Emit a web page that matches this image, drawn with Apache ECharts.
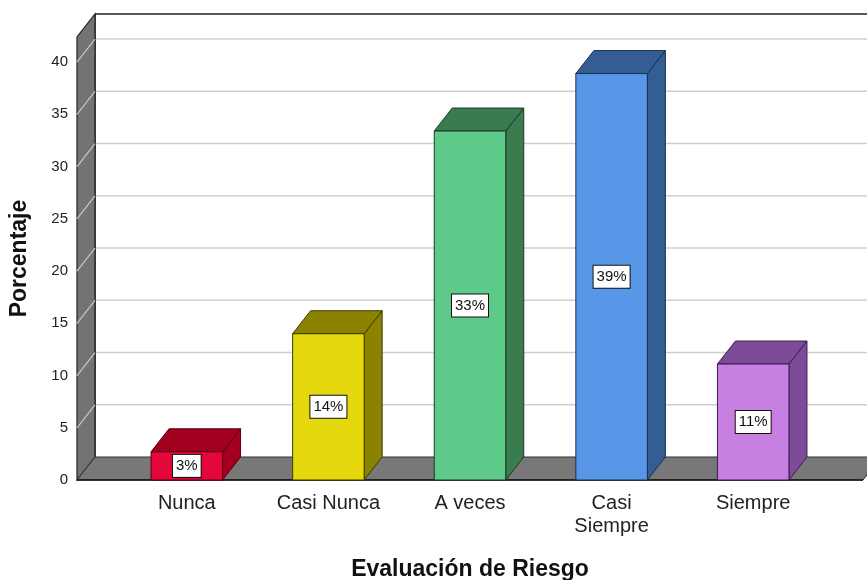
<!DOCTYPE html>
<html>
<head>
<meta charset="utf-8">
<script src="https://cdn.jsdelivr.net/npm/echarts@6/dist/echarts.min.js"></script>
<style>
  html, body { margin: 0; padding: 0; background: #fff; }
  #chart { width: 867px; height: 580px; }
</style>
</head>
<body>
<div id="chart"></div>
<script>
// data
var categories = ['Nunca', 'Casi Nunca', 'A veces', 'Casi\nSiempre', 'Siempre'];
var porcentajes = [2.7, 14.0, 33.4, 38.9, 11.1];
var yTicks = [0, 5, 10, 15, 20, 25, 30, 35, 40];
var yTop = 42.4;

// colours of the 3d bars: front face, top/side face
var frontColors = ['#e4083a', '#e5d80c', '#5dca8a', '#5897e8', '#c87fe2'];
var sideColors = ['#a3001f', '#8b8200', '#3a7c50', '#345d93', '#7d4c98'];
var edgeColors = ['#5a0010', '#3d3800', '#173a22', '#18304f', '#3b1d4d'];

var DX = 18, DY = -23;   // depth offset of the 3d effect
var EXT = 39;            // floor sticks out past the category band

function initChart(domId) {
    var myChart = echarts.init(document.getElementById(domId));

    function renderFrame(params, api) {
        var cs = params.coordSys;
        var L = cs.x - EXT, R = cs.x + cs.width + EXT;
        var y0 = api.coord([0, 0])[1];
        var yt = api.coord([0, yTop])[1];
        var kids = [];
        // back wall
        kids.push({ type: 'polygon', shape: { points: [[L + DX, yt + DY], [R + DX + 60, yt + DY], [R + DX + 60, y0 + DY], [L + DX, y0 + DY]] },
            style: { fill: '#fff', stroke: null } });
        yTicks.forEach(function (v) {
            if (v === 0) return;
            var y = api.coord([0, v])[1];
            kids.push({ type: 'line', shape: { x1: L + DX, y1: y + DY, x2: R + DX + 60, y2: y + DY },
                style: { stroke: '#cfcfcf', lineWidth: 1.5 } });
        });
        kids.push({ type: 'line', shape: { x1: L + DX, y1: yt + DY, x2: R + DX + 60, y2: yt + DY },
            style: { stroke: '#222', lineWidth: 1.5 } });
        kids.push({ type: 'line', shape: { x1: L + DX, y1: yt + DY, x2: L + DX, y2: y0 + DY },
            style: { stroke: '#222', lineWidth: 1.5 } });
        // left wall
        kids.push({ type: 'polygon', shape: { points: [[L, y0], [L, yt], [L + DX, yt + DY], [L + DX, y0 + DY]] },
            style: { fill: '#737373', stroke: '#222', lineWidth: 1.2 } });
        yTicks.forEach(function (v) {
            if (v === 0) return;
            var y = api.coord([0, v])[1];
            kids.push({ type: 'line', shape: { x1: L, y1: y, x2: L + DX, y2: y + DY },
                style: { stroke: '#c8c8c8', lineWidth: 1.2 } });
        });
        // floor
        kids.push({ type: 'polygon', shape: { points: [[L, y0], [R, y0], [R + DX, y0 + DY], [L + DX, y0 + DY]] },
            style: { fill: '#787878', stroke: '#333', lineWidth: 1 } });
        kids.push({ type: 'line', shape: { x1: L, y1: y0, x2: R, y2: y0 },
            style: { stroke: '#111', lineWidth: 1.5 } });
        return { type: 'group', children: kids };
    }

    function renderBar(params, api) {
        var i = api.value(0), v = api.value(1);
        var base = api.coord([i, 0]);
        var top = api.coord([i, v]);
        var w = api.size([1, 0])[0] * 0.505;
        var xl = base[0] - w / 2, xr = base[0] + w / 2;
        var yb = base[1], yt = top[1];
        var edge = edgeColors[i];
        return {
            type: 'group',
            children: [
                { type: 'polygon', shape: { points: [[xr, yt], [xr + DX, yt + DY], [xr + DX, yb + DY], [xr, yb]] },
                    style: { fill: sideColors[i], stroke: edge, lineWidth: 1 } },
                { type: 'polygon', shape: { points: [[xl, yt], [xr, yt], [xr + DX, yt + DY], [xl + DX, yt + DY]] },
                    style: { fill: sideColors[i], stroke: edge, lineWidth: 1 } },
                { type: 'rect', shape: { x: xl, y: yt, width: w, height: yb - yt },
                    style: { fill: frontColors[i], stroke: edge, lineWidth: 1 } },
                { type: 'text', x: base[0], y: (yt + yb) / 2,
                    style: { text: Math.round(v) + '%', align: 'center', verticalAlign: 'middle',
                        font: '15px "Liberation Sans", Arial, sans-serif', fill: '#111',
                        backgroundColor: '#fff', borderColor: '#111', borderWidth: 1, padding: [4, 3, 3, 3] } }
            ]
        };
    }

    var option = {
        animation: false,
        grid: {
            left: 116,
            right: 43,
            top: 37,
            bottom: 100,
            containLabel: false,
            outerBoundsMode: 'none'
        },
        xAxis: {
            type: 'category',
            data: categories,
            name: 'Evaluación de Riesgo',
            nameLocation: 'middle',
            nameGap: 78,
            nameTextStyle: { fontSize: 23, fontWeight: 'bold', color: '#111', fontFamily: '"Liberation Sans", Arial, sans-serif' },
            axisLine: { show: false },
            axisTick: { show: false },
            axisLabel: { interval: 0, margin: 12, fontSize: 20, lineHeight: 23, color: '#222', fontFamily: '"Liberation Sans", Arial, sans-serif' },
            splitLine: { show: false }
        },
        yAxis: {
            type: 'value',
            min: 0,
            max: yTop,
            interval: 5,
            name: 'Porcentaje',
            nameLocation: 'middle',
            nameGap: 85,
            nameTextStyle: { fontSize: 23, fontWeight: 'bold', color: '#111', fontFamily: '"Liberation Sans", Arial, sans-serif' },
            axisLine: { show: false },
            axisTick: { show: false },
            splitLine: { show: false },
            axisLabel: {
                margin: 48,
                fontSize: 15,
                color: '#222',
                fontFamily: '"Liberation Sans", Arial, sans-serif',
                formatter: function (v) { return yTicks.indexOf(v) >= 0 ? String(v) : ''; }
            }
        },
        series: [
            {
                type: 'custom',
                renderItem: renderFrame,
                data: [[0, 0]],
                silent: true,
                z: 1
            },
            {
                type: 'custom',
                renderItem: renderBar,
                data: porcentajes.map(function (v, i) { return [i, v]; }),
                z: 2
            }
        ]
    };
    myChart.setOption(option);
}

initChart('chart');
</script>
</body>
</html>
